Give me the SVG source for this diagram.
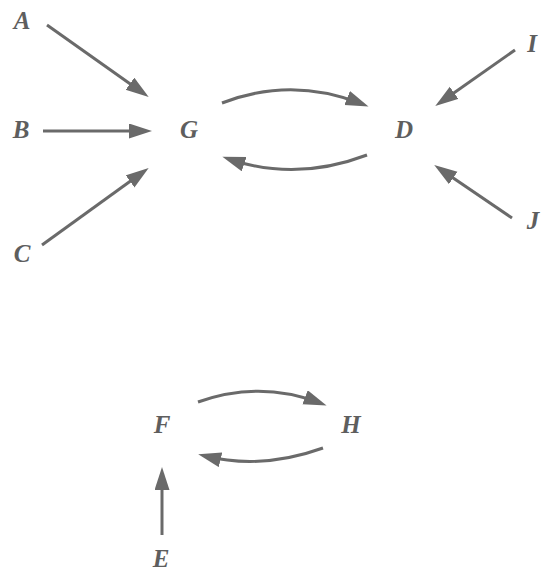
<svg xmlns="http://www.w3.org/2000/svg" width="542" height="576" viewBox="0 0 542 576">
<style>
.lbl{font-family:"Liberation Serif","DejaVu Serif",serif;font-style:italic;font-weight:bold;font-size:25px;fill:#5e5e5e;text-anchor:middle}
.edge{fill:none;stroke:#6a6a6a;stroke-width:3;marker-end:url(#ah)}
</style>
<defs>
<marker id="ah" markerUnits="userSpaceOnUse" markerWidth="24" markerHeight="16" refX="16" refY="7.5" orient="auto">
<path d="M0,0 L23,7.5 L0,15 Z" fill="#6a6a6a"/>
</marker>
</defs>
<rect width="542" height="576" fill="#ffffff"/>
<g id="edges">
<path class="edge" d="M47,25 L143,93"/>
<path class="edge" d="M43,131 L145,131"/>
<path class="edge" d="M42,245 L143,172"/>
<path class="edge" d="M222,103 Q292,76 362,104"/>
<path class="edge" d="M367,155 Q296,182 229,159"/>
<path class="edge" d="M515,50 L441,102"/>
<path class="edge" d="M512,218 L440,169"/>
<path class="edge" d="M198,402 Q260,380 320,403"/>
<path class="edge" d="M323,448 Q262,470 205,456"/>
<path class="edge" d="M162,535 L162,474"/>
</g>
<g id="A"><text class="lbl" x="22" y="29">A</text></g>
<g id="B"><text class="lbl" x="21" y="138">B</text></g>
<g id="C"><text class="lbl" x="22" y="262">C</text></g>
<g id="G"><text class="lbl" x="189" y="138">G</text></g>
<g id="D"><text class="lbl" x="404" y="138">D</text></g>
<g id="I"><text class="lbl" x="532" y="52">I</text></g>
<g id="J"><text class="lbl" x="533" y="229">J</text></g>
<g id="F"><text class="lbl" x="162" y="433">F</text></g>
<g id="H"><text class="lbl" x="351" y="433">H</text></g>
<g id="E"><text class="lbl" x="161" y="567">E</text></g>
</svg>
